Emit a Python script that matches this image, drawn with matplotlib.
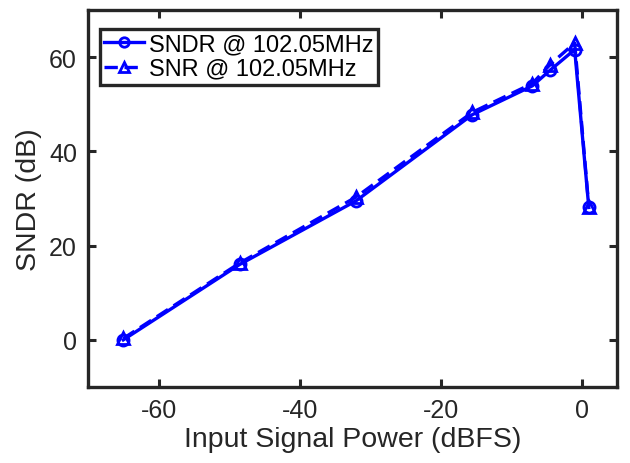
import numpy as np
import matplotlib
matplotlib.use("Agg")
import matplotlib.pyplot as plt

plt.rcParams['font.family'] = ['Liberation Sans', 'DejaVu Sans']
plt.rcParams['axes.unicode_minus'] = False

# input power (dBFS)
pin = [-65, -48.5, -32, -15.5, -7, -4.5, -1, 1]
# SNDR and SNR (dB) at 102.05 MHz
sndr = [0, 16, 29.5, 47.8, 53.9, 57.2, 61.6, 28.1]
snr = [0.3, 16.3, 30.3, 48.3, 54.4, 58.4, 63.0, 28.3]

fig = plt.figure(figsize=(6.3, 4.64), dpi=100)
ax = fig.add_axes([88/630, 1-388/464, (617-88)/630, (388-11)/464])

ax.plot(pin, sndr, '-o', color='#0000ff', lw=2.4, ms=8, mfc='none', mew=2,
        label='SNDR @ 102.05MHz')
ax.plot(pin, snr, '--^', color='#0000ff', lw=2.4, ms=9, mfc='none', mew=2,
        dashes=(4, 2), label='SNR @ 102.05MHz')

ax.set_xlim(-70, 5)
ax.set_ylim(-10, 70)
ax.set_xticks([-60, -40, -20, 0])
ax.set_yticks([0, 20, 40, 60])
ax.tick_params(direction='in', length=6, width=2.2, top=True, right=True,
               labelsize=18, colors='#262626', pad=8)
for s in ax.spines.values():
    s.set_linewidth(2.4)
    s.set_color('#262626')
ax.set_xlabel('Input Signal Power (dBFS)', fontsize=20.5, color='#262626',
              labelpad=3)
ax.set_ylabel('SNDR (dB)', fontsize=20.5, color='#262626', labelpad=5)

leg = ax.legend(loc='upper left', bbox_to_anchor=(0.022, 0.95), fontsize=17,
                frameon=True, fancybox=False, handlelength=1.7,
                handletextpad=0.2, borderpad=0.2, labelspacing=0.1,
                borderaxespad=0, framealpha=1, markerscale=0.85)
leg.get_frame().set_edgecolor('#262626')
leg.get_frame().set_linewidth(2.4)

fig.savefig('out.png', dpi=100)
